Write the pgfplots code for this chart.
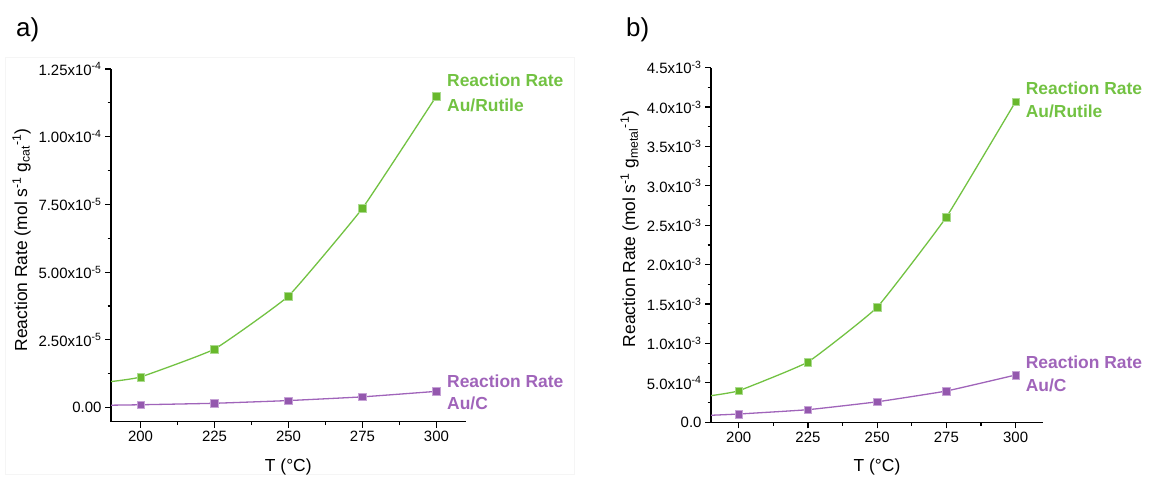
\documentclass[border=0pt]{standalone}
\usepackage{pgfplots}
\pgfplotsset{compat=1.18}
\usepackage{fontspec}
\setmainfont{Liberation Sans}

\definecolor{rutile}{RGB}{114,194,66}
\definecolor{rutilemk}{RGB}{104,184,44}
\definecolor{auc}{RGB}{160,100,186}
\definecolor{aucmk}{RGB}{148,88,174}

\pgfplotsset{
  panel/.style={
    scale only axis,
    anchor=south west,
    axis lines=left,
    axis line style={-, line width=1.5bp},
    xmin=190, xmax=310,
    xtick={200,225,250,275,300},
    minor x tick num=1, minor y tick num=1,
    tick align=outside,
    major tick length=6bp, minor tick length=3.5bp,
    every tick/.style={black, line width=1.2bp},
    scaled y ticks=false,
    tick label style={font=\fontsize{15}{17}\selectfont},
    /pgf/number format/assume math mode=true,
  },
  rutileline/.style={color=rutile, line width=1.3bp, smooth, tension=0.2,
    mark=square*, mark size=3.8bp, mark indices={2,3,4,5,6},
    mark options={fill=rutilemk, draw=rutile!60!white, line width=0.5bp}},
  aucline/.style={color=auc, line width=1.3bp, smooth, tension=0.2,
    mark=square*, mark size=3.8bp, mark indices={2,3,4,5,6},
    mark options={fill=aucmk, draw=auc!60!white, line width=0.5bp}},
}

\newcommand{\annot}{\fontsize{17.5}{20}\selectfont\bfseries}
\newcommand{\lab}{\fontsize{17.5}{20}\selectfont}

\begin{document}
\begin{tikzpicture}[x=1bp, y=1bp]
\path[use as bounding box] (0,0) rectangle (1150,477);
% light panel frame
\draw[black!4, line width=0.8bp] (5,3) rectangle (574,420);

% ---------- panel a: per gram of catalyst ----------
\begin{axis}[panel, at={(111bp,55.3bp)}, width=355bp, height=352.7bp,
  ymin=-5.2e-6, ymax=1.25e-4,
  ytick={0,2.5e-5,5e-5,7.5e-5,1e-4,1.25e-4},
  yticklabels={0.00, 2.50x10\textsuperscript{-5}, 5.00x10\textsuperscript{-5},
    7.50x10\textsuperscript{-5}, 1.00x10\textsuperscript{-4}, 1.25x10\textsuperscript{-4}},
]
\addplot[rutileline] coordinates {
  (190,0.96e-5) (200,1.13e-5) (225,2.16e-5) (250,4.12e-5) (275,7.36e-5) (300,1.150e-4)};
\addplot[aucline] coordinates {
  (190,0.89e-6) (200,1.05e-6) (225,1.60e-6) (250,2.60e-6) (275,3.97e-6) (300,6.00e-6)};
\end{axis}

% ---------- panel b: per gram of metal ----------
\begin{axis}[panel, at={(711bp,54.7bp)}, width=332.3bp, height=354.6bp,
  ymin=0, ymax=4.5e-3,
  ytick={0,5e-4,1e-3,1.5e-3,2e-3,2.5e-3,3e-3,3.5e-3,4e-3,4.5e-3},
  yticklabels={0.0, 5.0x10\textsuperscript{-4}, 1.0x10\textsuperscript{-3},
    1.5x10\textsuperscript{-3}, 2.0x10\textsuperscript{-3}, 2.5x10\textsuperscript{-3},
    3.0x10\textsuperscript{-3}, 3.5x10\textsuperscript{-3}, 4.0x10\textsuperscript{-3},
    4.5x10\textsuperscript{-3}},
]
\addplot[rutileline] coordinates {
  (190,3.38e-4) (200,4.00e-4) (225,7.65e-4) (250,1.46e-3) (275,2.605e-3) (300,4.07e-3)};
\addplot[aucline] coordinates {
  (190,0.89e-4) (200,1.05e-4) (225,1.60e-4) (250,2.60e-4) (275,3.97e-4) (300,6.00e-4)};
\end{axis}

% panel letters
\node[anchor=base west, inner sep=0, font=\fontsize{26}{30}\selectfont] at (16,440.3) {a)};
\node[anchor=base west, inner sep=0, font=\fontsize{26}{30}\selectfont] at (626,440.3) {b)};

% axis titles
\node[anchor=base, inner sep=0, font=\lab] at (288.3,5.3) {T (°C)};
\node[anchor=base, inner sep=0, font=\lab] at (877,5.3) {T (°C)};
\node[anchor=base, inner sep=0, rotate=90, font=\lab] at (27,237)
  {Reaction Rate (mol s\textsuperscript{-1} g\textsubscript{cat}\textsuperscript{-1})};
\node[anchor=base, inner sep=0, rotate=90, font=\lab] at (635,248)
  {Reaction Rate (mol s\textsuperscript{-1} g\textsubscript{metal}\textsuperscript{-1})};

% series names
\node[anchor=base west, inner sep=0, text=rutile, font=\annot] at (447,390) {Reaction Rate};
\node[anchor=base west, inner sep=0, text=rutile, font=\annot] at (447,365.7) {Au/Rutile};
\node[anchor=base west, inner sep=0, text=auc, font=\annot] at (447,89.7) {Reaction Rate};
\node[anchor=base west, inner sep=0, text=auc, font=\annot] at (447,67.4) {Au/C};
\node[anchor=base west, inner sep=0, text=rutile, font=\annot] at (1025.7,382.4) {Reaction Rate};
\node[anchor=base west, inner sep=0, text=rutile, font=\annot] at (1025.7,359) {Au/Rutile};
\node[anchor=base west, inner sep=0, text=auc, font=\annot] at (1025.7,108) {Reaction Rate};
\node[anchor=base west, inner sep=0, text=auc, font=\annot] at (1025.7,85.7) {Au/C};
\end{tikzpicture}
\end{document}
